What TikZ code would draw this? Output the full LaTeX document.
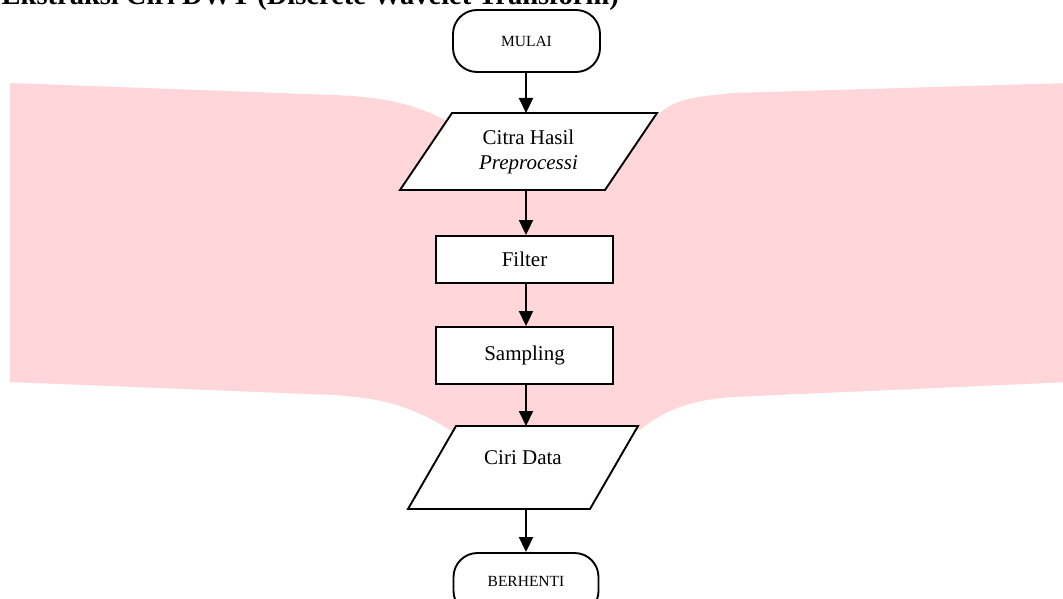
\documentclass[tikz,border=0pt]{standalone}
\usepackage{fontspec}
\setmainfont{Liberation Serif}
\usetikzlibrary{arrows.meta,calc}
\definecolor{wmpink}{RGB}{255,214,218}
\tikzset{
  outl/.style={draw=black, line width=1.9pt, fill=white},
  ghost/.style={rectangle, inner sep=0pt, outer sep=0pt},
  procbox/.style={rectangle, outl, inner sep=0pt, font=\fontsize{21}{25}\selectfont},
  termbox/.style={rectangle, rounded corners=24pt, outl, inner sep=0pt, font=\fontsize{15.5}{18}\selectfont},
  arr/.style={draw=black, line width=2pt, -{Triangle[length=15pt,width=14pt]}},
}
\begin{document}
\begin{tikzpicture}[x=1pt,y=-1pt]
\useasboundingbox (0,0) rectangle (1063,599);
% watermark band
\fill[wmpink] (10,83) -- (333,95) .. controls (380,97) and (410,102) .. (447,121)
  -- (660,113) .. controls (675,100) and (690,97) .. (733,93) -- (1070,83)
  -- (1070,382) -- (733,397) .. controls (690,400) and (665,410) .. (640,430)
  -- (450,430) .. controls (410,405) and (380,398) .. (333,395) -- (10,382) -- cycle;
% title
\node[anchor=base east, inner sep=0pt, font=\bfseries\fontsize{28.5}{32}\selectfont] (title) at (619,5) {Ekstraksi Ciri DWT (Discrete Wavelet Transform)};
% start
\node[termbox, minimum width=147pt, minimum height=62pt] (start) at (526.5,41) {MULAI};
% input parallelogram
\node[ghost, minimum width=257pt, minimum height=77pt] (p1) at (528.5,151.5) {};
\draw[outl] (p1.south west) -- ($(p1.north west)+(52,0)$) -- (p1.north east) -- ($(p1.south east)-(52,0)$) -- cycle;
\node[align=center, inner sep=0pt, font=\fontsize{21}{25}\selectfont] (p1text) at (p1.center) {Citra Hasil\\\textit{Preprocessi}};
% filter
\node[procbox, minimum width=177pt, minimum height=47pt] (filter) at (524.5,259.5) {Filter};
% sampling
\node[procbox, minimum width=177pt, minimum height=57pt] (sampling) at (524.5,355.5) {Sampling};
% output parallelogram
\node[ghost, minimum width=230pt, minimum height=83pt] (p2) at (523,467.5) {};
\draw[outl] (p2.south west) -- ($(p2.north west)+(48,0)$) -- (p2.north east) -- ($(p2.south east)-(48,0)$) -- cycle;
\node[inner sep=0pt, font=\fontsize{21}{25}\selectfont] (p2text) at ($(p2.center)+(0,-10)$) {Ciri Data};
% stop
\node[termbox, minimum width=145pt, minimum height=62pt] (stop) at (526,584) {\raisebox{5pt}{BERHENTI}};
% connectors
\draw[arr] (stop.north |- start.south) -- (stop.north |- p1.north);
\draw[arr] (stop.north |- p1.south) -- (stop.north |- filter.north);
\draw[arr] (stop.north |- filter.south) -- (stop.north |- sampling.north);
\draw[arr] (stop.north |- sampling.south) -- (stop.north |- p2.north);
\draw[arr] (stop.north |- p2.south) -- (stop.north);
\end{tikzpicture}
\end{document}
